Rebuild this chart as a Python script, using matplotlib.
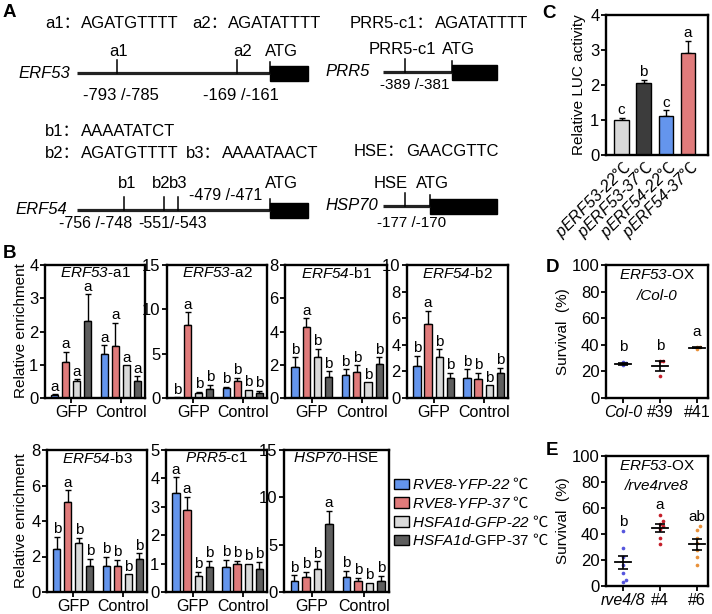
import matplotlib
matplotlib.use('Agg')
import matplotlib.pyplot as plt
from matplotlib.patches import Rectangle
import numpy as np

W, H = 712, 614
plt.rcParams['font.family'] = ['Liberation Sans', 'DejaVu Sans']
plt.rcParams['mathtext.fontset'] = 'custom'
plt.rcParams['mathtext.rm'] = 'Liberation Sans'
plt.rcParams['mathtext.it'] = 'Liberation Sans:italic'
plt.rcParams['mathtext.sf'] = 'Liberation Sans:italic'
plt.rcParams['mathtext.bf'] = 'Liberation Sans:bold'
plt.rcParams['mathtext.tt'] = 'Noto Sans CJK SC'
plt.rcParams['mathtext.fallback'] = 'stix'


def it(s):
    return r'$\mathsf{' + s + '}$'


DEG = r'$\mathtt{℃}$'

# ---------------- data ----------------
# Panel A: promoter motifs
erf53_sites = ['a1', 'a2']
erf53_pos = [-793, -169]
erf53_ranges = ['-793 /-785', '-169 /-161']
erf53_motifs = ['AGATGTTTT', 'AGATATTTT']
erf54_sites = ['b1', 'b2', 'b3']
erf54_pos = [-756, -551, -479]
erf54_ranges = ['-756 /-748', '-551/-543', '-479 /-471']
erf54_motifs = ['AAAATATCT', 'AGATGTTTT', 'AAAATAACT']
prr5_sites = ['PRR5-c1']
prr5_pos = [-389]
prr5_ranges = ['-389 /-381']
prr5_motifs = ['AGATATTTT']
hsp70_sites = ['HSE']
hsp70_pos = [-177]
hsp70_ranges = ['-177 /-170']
hsp70_motifs = ['GAACGTTC']

# Panel B: ChIP enrichment (order: RVE8-22, RVE8-37, HSFA1d-22, HSFA1d-37) x (GFP, Control)
b_groups = ['GFP', 'Control']
b_titles = [('ERF53', '-a1'), ('ERF53', '-a2'), ('ERF54', '-b1'), ('ERF54', '-b2'),
            ('ERF54', '-b3'), ('PRR5', '-c1'), ('HSP70', '-HSE')]
b_ymax = [4, 15, 8, 10, 8, 5, 15]
b_ystep = [1, 5, 2, 2, 2, 1, 5]
erf53_a1_vals = [0.08, 1.08, 0.52, 2.32, 1.33, 1.55, 0.98, 0.50]
erf53_a1_errs = [0.03, 0.30, 0.04, 0.80, 0.25, 0.72, 0.00, 0.15]
erf53_a1_lets = ['a', 'a', 'a', 'a', 'a', 'a', 'a', 'a']
erf53_a2_vals = [0.05, 8.20, 0.60, 1.05, 1.10, 1.90, 0.95, 0.58]
erf53_a2_errs = [0.02, 1.45, 0.08, 0.45, 0.12, 0.35, 0.00, 0.25]
erf53_a2_lets = ['b', 'a', 'b', 'b', 'b', 'b', 'b', 'b']
erf54_b1_vals = [1.88, 4.27, 2.48, 1.28, 1.37, 1.56, 0.94, 2.07]
erf54_b1_errs = [0.57, 0.53, 0.48, 0.32, 0.36, 0.40, 0.00, 0.38]
erf54_b1_lets = ['b', 'a', 'b', 'b', 'b', 'b', 'b', 'b']
erf54_b2_vals = [2.42, 5.58, 3.06, 1.48, 1.53, 1.46, 0.94, 1.88]
erf54_b2_errs = [0.76, 0.96, 0.59, 0.40, 0.63, 0.42, 0.00, 0.40]
erf54_b2_lets = ['b', 'a', 'b', 'b', 'b', 'b', 'b', 'b']
erf54_b3_vals = [2.44, 5.07, 2.78, 1.47, 1.47, 1.44, 1.00, 1.85]
erf54_b3_errs = [0.68, 0.66, 0.28, 0.41, 0.53, 0.37, 0.00, 0.33]
erf54_b3_lets = ['b', 'a', 'b', 'b', 'b', 'b', 'b', 'b']
prr5_c1_vals = [3.47, 2.90, 0.58, 0.88, 0.88, 1.00, 0.98, 0.82]
prr5_c1_errs = [0.57, 0.45, 0.12, 0.21, 0.24, 0.09, 0.00, 0.23]
prr5_c1_lets = ['a', 'a', 'b', 'b', 'b', 'b', 'b', 'b']
hsp70_hse_vals = [1.15, 1.60, 2.38, 7.20, 1.54, 1.12, 1.00, 1.20]
hsp70_hse_errs = [0.60, 0.50, 0.87, 1.40, 0.73, 0.40, 0.00, 0.50]
hsp70_hse_lets = ['b', 'b', 'b', 'a', 'b', 'b', 'b', 'b']
b_vals = [erf53_a1_vals, erf53_a2_vals, erf54_b1_vals, erf54_b2_vals,
          erf54_b3_vals, prr5_c1_vals, hsp70_hse_vals]
b_errs = [erf53_a1_errs, erf53_a2_errs, erf54_b1_errs, erf54_b2_errs,
          erf54_b3_errs, prr5_c1_errs, hsp70_hse_errs]
b_lets = [erf53_a1_lets, erf53_a2_lets, erf54_b1_lets, erf54_b2_lets,
          erf54_b3_lets, prr5_c1_lets, hsp70_hse_lets]
legend_labels = [it('RVE8') + '-' + it('YFP') + '-' + it('22') + ' ' + DEG,
                 it('RVE8') + '-' + it('YFP') + '-' + it('37') + ' ' + DEG,
                 it('HSFA1d') + '-' + it('GFP') + '-' + it('22') + ' ' + DEG,
                 it('HSFA1d') + '-GFP-37 ' + DEG]

# Panel C: LUC activity
c_labels = [it('pERF53') + '-' + it('22') + DEG, it('pERF53') + '-' + it('37') + DEG,
            it('pERF54') + '-' + it('22') + DEG, it('pERF54') + '-' + it('37') + DEG]
c_vals = [1.00, 2.05, 1.12, 2.92]
c_errs = [0.07, 0.10, 0.16, 0.35]
c_lets = ['c', 'b', 'c', 'a']

# Panel D: survival ERF53-OX / Col-0
d_cats = ['Col-0', '#39', '#41']
d_col0 = [24.5, 26.0, 27.0]
d_l39 = [16.5, 27.5, 28.0]
d_l41 = [37.0, 38.0, 38.5]
d_lets = ['b', 'b', 'a']

# Panel E: survival ERF53-OX / rve4rve8
e_cats = ['rve4/8', '#4', '#6']
e_rve = [42, 29, 22, 16, 10, 5, 3]
e_l4 = [55, 50, 48, 46, 44, 37, 32]
e_l6 = [46, 43, 37, 33, 28, 22, 16]
e_lets = ['b', 'a', 'ab']

# ---------------- styles ----------------
bar_colors = ['#6495ED', '#E07B7B', '#D9D9D9', '#5E5E5E']
c_colors = ['#D9D9D9', '#3C3C3C', '#6495ED', '#E07B7B']
dot_colors = ['#5555DD', '#C41E2A', '#E8913A']
FS = 11       # general text
FT = 12       # tick labels
FSA = 12      # panel A text
CJK = ['Liberation Sans', 'Noto Sans CJK SC']

fig = plt.figure(figsize=(W / 100, H / 100), dpi=100)
fig.patch.set_facecolor('white')


def px_axes(x0, y0, x1, y1):
    return fig.add_axes([x0 / W, 1 - y1 / H, (x1 - x0) / W, (y1 - y0) / H])


ov = fig.add_axes([0, 0, 1, 1])
ov.set_xlim(0, W)
ov.set_ylim(H, 0)
ov.axis('off')

# panel letters
for lab, x, y in [('A', 3, 17), ('B', 3, 258), ('C', 542, 18), ('D', 546, 272), ('E', 546, 455)]:
    ov.text(x, y, lab, fontsize=13.5, fontweight='bold', va='baseline', ha='left')


# ---------------- Panel A ----------------
def promoter(gene, gx, y, x0, xatg, xend, length, pos, sites, ranges,
             site_dy, site_dx, range_place, atg_dx, fs_site, fs_range, boxh=7.5):
    k = (xatg - x0) / length
    ov.plot([x0, xatg], [y, y], color='#222222', lw=2.3, solid_capstyle='butt')
    ov.add_patch(Rectangle((xatg, y - boxh), xend - xatg, 2 * boxh, color='black'))
    ov.plot([xatg, xatg], [y, y - 11], color='black', lw=1.1)
    ov.text(xatg + atg_dx, y - site_dy, 'ATG', fontsize=fs_site, ha='center', va='center')
    ov.text(gx, y, gene, fontsize=FSA, style='italic', ha='left', va='center')
    for p, s, r, sdx, (rx, ry, ha) in zip(pos, sites, ranges, site_dx, range_place):
        xs = xatg + p * k
        ov.plot([xs, xs], [y, y - 13], color='black', lw=1.1)
        ov.text(xs + sdx, y - site_dy, s, fontsize=fs_site, ha='center', va='center')
        ov.text(xs + rx, y + ry, r, fontsize=fs_range, ha=ha, va='center')


promoter('ERF53', 18, 73, 77, 270, 308, 1000, erf53_pos, erf53_sites, erf53_ranges, 22,
         [2, 5], [(4, 23, 'center'), (4, 23, 'center')], 11, FSA, FSA)
promoter('ERF54', 15, 210, 77, 270, 308, 1000, erf54_pos, erf54_sites, erf54_ranges, 26,
         [3, -2, 1], [(-28, 13, 'center'), (9, 13, 'center'), (11, -14, 'left')], 11, FSA, 11.5)
promoter('PRR5', 325, 72, 383, 452, 497, 570, prr5_pos, prr5_sites, prr5_ranges, 23,
         [-3], [(10, 13, 'center')], 6, FSA, 11)
promoter('HSP70', 325, 206, 383, 430, 497, 330, hsp70_pos, hsp70_sites, hsp70_ranges, 22,
         [-14], [(7, 17, 'center')], 2, FSA, 11)


def motif(xn, xm, y, name, seq):
    ov.text(xn, y, name + '：', fontsize=FSA, ha='left', va='center', family=CJK)
    ov.text(xm, y, seq, fontsize=FSA, ha='left', va='center')


motif(45, 81, 23, erf53_sites[0], erf53_motifs[0])
motif(192, 228, 23, erf53_sites[1], erf53_motifs[1])
motif(350, 435, 23, prr5_sites[0], prr5_motifs[0])
motif(45, 81, 132, erf54_sites[0], erf54_motifs[0])
motif(45, 81, 153, erf54_sites[1], erf54_motifs[1])
motif(186, 222, 153, erf54_sites[2], erf54_motifs[2])
motif(354, 406, 152, hsp70_sites[0], hsp70_motifs[0])


def style_box(ax):
    for s in ax.spines.values():
        s.set_linewidth(1.7)
    ax.tick_params(width=1.3, length=3.5, labelsize=FT, pad=1.2, direction='out')


# ---------------- Panel B ----------------
b_boxes = [(45, 265, 145, 398), (167, 265, 267, 398), (285, 265, 387, 398), (407, 265, 508, 398),
           (47, 450, 147, 592), (166, 450, 267, 592), (284, 450, 389, 592)]
bx = np.array([0, 1, 2, 3, 4.5, 5.5, 6.5, 7.5])
for i, box in enumerate(b_boxes):
    ax = px_axes(*box)
    vals = np.array(b_vals[i])
    errs = np.array(b_errs[i])
    ax.bar(bx, vals, 0.65, color=bar_colors * 2, edgecolor='black', linewidth=1.0, zorder=2)
    m = errs > 0
    ax.errorbar(bx[m], vals[m], yerr=[np.zeros(m.sum()), errs[m]], fmt='none', ecolor='black',
                elinewidth=1.0, capsize=2.2, capthick=1.0, zorder=1)
    for x, v, e, l in zip(bx, vals, errs, b_lets[i]):
        ax.annotate(l, (x, v + e), xytext=(0, 0.5), textcoords='offset points',
                    ha='center', va='bottom', fontsize=FS)
    ax.set_xlim(-0.9, 8.2)
    ax.set_ylim(0, b_ymax[i])
    ax.set_yticks(np.arange(0, b_ymax[i] + 0.01, b_ystep[i]))
    ax.set_xticks([1.5, 6.0])
    ax.set_xticklabels(b_groups, fontsize=FS + 0.5)
    style_box(ax)
    ax.tick_params(axis='x', length=3.5, pad=1.5, labelsize=FS + 0.5)
    g, s = b_titles[i]
    ax.text(0.5, 0.995, it(g) + s, transform=ax.transAxes, ha='center', va='top', fontsize=FS)

ov.text(21, 331, 'Relative enrichment', rotation=90, fontsize=FS, ha='center', va='center')
ov.text(21, 521, 'Relative enrichment', rotation=90, fontsize=FS, ha='center', va='center')

handles = [Rectangle((0, 0), 1, 1, facecolor=c, edgecolor='black', linewidth=1.0) for c in bar_colors]
fig.legend(handles, legend_labels, loc='upper left', bbox_to_anchor=(394 / W, 1 - 477 / H),
           frameon=False, handlelength=1.0, handleheight=0.7, handletextpad=0.2,
           labelspacing=0.22, borderpad=0, borderaxespad=0, fontsize=FS)

# ---------------- Panel C ----------------
axc = px_axes(606, 15, 708, 155)
cx = np.arange(4)
axc.bar(cx, c_vals, 0.65, color=c_colors, edgecolor='black', linewidth=1.0, zorder=2)
axc.errorbar(cx, c_vals, yerr=[np.zeros(4), c_errs], fmt='none', ecolor='black', elinewidth=1.0,
             capsize=2.2, capthick=1.0, zorder=1)
for x, v, e, l in zip(cx, c_vals, c_errs, c_lets):
    axc.annotate(l, (x, v + e), xytext=(0, 0.5), textcoords='offset points', ha='center',
                 va='bottom', fontsize=FS)
axc.set_xlim(-0.7, 3.9)
axc.set_ylim(0, 4)
axc.set_yticks(range(5))
axc.set_xticks(cx)
axc.set_xticklabels(c_labels, rotation=45, ha='right', rotation_mode='anchor', fontsize=11.5)
style_box(axc)
axc.tick_params(axis='x', length=0, pad=2, labelsize=11.5)
axc.set_ylabel('Relative LUC activity', fontsize=FS, labelpad=3)


# ---------------- Panels D / E ----------------
def survival(box, groups, cats, lets, title2, italic_idx, let_off):
    ax = px_axes(*box)
    for i, pts in enumerate(groups):
        pts = np.array(pts, dtype=float)
        order = np.argsort(pts)
        offs = np.zeros(len(pts))
        prev = None
        side = 1
        for j in order:
            if prev is not None and abs(pts[j] - pts[prev]) < 4:
                offs[j] = 0.09 * side if offs[prev] == 0 else 0.0
                side = -side
            prev = j
        ax.scatter(i + offs, pts, s=7, color=dot_colors[i], zorder=2, linewidths=0)
        mean = pts.mean()
        sem = pts.std(ddof=1) / np.sqrt(len(pts))
        ax.plot([i - 0.22, i + 0.22], [mean, mean], color='black', lw=1.3, zorder=3)
        ax.errorbar([i], [mean], yerr=[[sem], [sem]], fmt='none', ecolor='black', elinewidth=1.2,
                    capsize=3.3, capthick=1.2, zorder=3)
        ax.text(i, pts.max() + let_off, lets[i], ha='center', va='bottom', fontsize=FS)
    ax.set_xlim(-0.46, 2.3)
    ax.set_ylim(0, 100)
    ax.set_yticks(range(0, 101, 20))
    ax.set_xticks(range(3))
    ax.set_xticklabels(cats)
    style_box(ax)
    ax.tick_params(axis='x', labelsize=11.5)
    ax.get_xticklabels()[italic_idx].set_fontstyle('italic')
    ax.set_ylabel('Survival  (%)', fontsize=FS, labelpad=1)
    ax.text(0.5, 0.975, it('ERF53') + '-OX', transform=ax.transAxes, ha='center', va='top',
            fontsize=FS)
    ax.text(0.5, 0.82, title2, transform=ax.transAxes, ha='center', va='top', fontsize=FS,
            style='italic')
    return ax


survival((606, 265, 708, 398), [d_col0, d_l39, d_l41], d_cats, d_lets, '/Col-0', 0, 6)
survival((606, 456, 708, 586), [e_rve, e_l4, e_l6], e_cats, e_lets, '/rve4rve8', 0, 2)

fig.savefig('out.png', dpi=100, facecolor='white')
